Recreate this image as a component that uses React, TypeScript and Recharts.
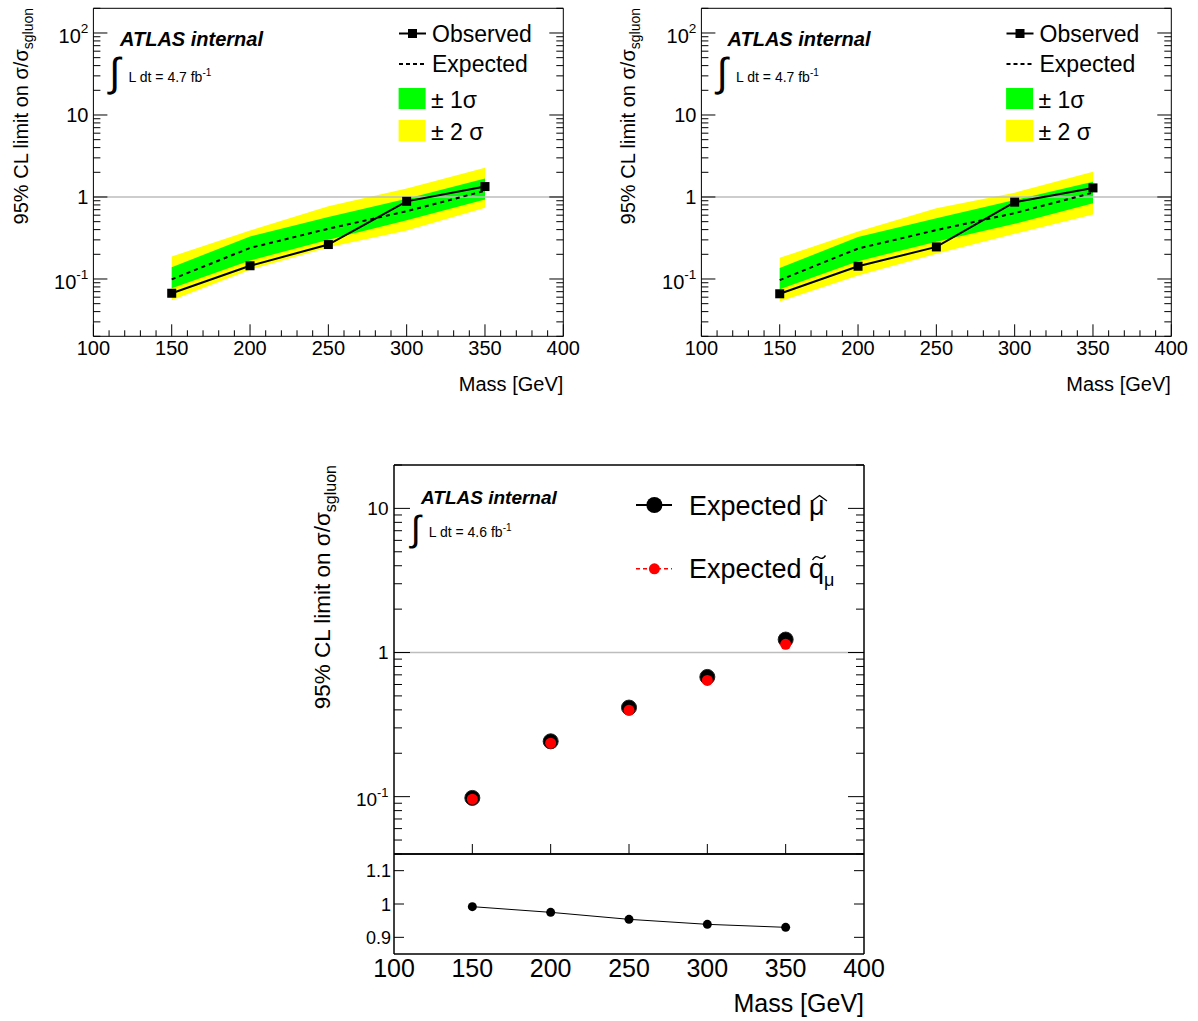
import React from "react";
import { ComposedChart, Area, Line, XAxis, YAxis, ReferenceLine } from "recharts";

const FONT = "'Liberation Sans', Arial, Helvetica, sans-serif";

// masses (GeV)
const MASS = [150, 200, 250, 300, 350];

// left top panel
const OBS_L = [0.067, 0.145, 0.263, 0.885, 1.34];
const EXP_L = [0.099, 0.239, 0.41, 0.67, 1.19];
const P1_L = [0.139, 0.33, 0.57, 0.95, 1.68];
const M1_L = [0.077, 0.168, 0.3, 0.52, 0.93];
const P2_L = [0.188, 0.39, 0.77, 1.27, 2.28];
const M2_L = [0.055, 0.13, 0.243, 0.39, 0.74];

// right top panel
const OBS_R = [0.066, 0.143, 0.246, 0.865, 1.29];
const EXP_R = [0.097, 0.235, 0.395, 0.635, 1.13];
const P1_R = [0.136, 0.325, 0.55, 0.92, 1.53];
const M1_R = [0.075, 0.165, 0.285, 0.47, 0.84];
const P2_R = [0.181, 0.38, 0.73, 1.13, 2.03];
const M2_R = [0.053, 0.11, 0.203, 0.355, 0.61];

// bottom panel
const EXP_MU = [0.098, 0.242, 0.415, 0.677, 1.23];
const EXP_QMU = [0.096, 0.235, 0.397, 0.64, 1.14];
const RATIO = [0.992, 0.975, 0.954, 0.939, 0.93];

// axis ticks
const X_TICKS = [100, 110, 120, 130, 140, 150, 160, 170, 180, 190, 200, 210, 220, 230, 240, 250,
  260, 270, 280, 290, 300, 310, 320, 330, 340, 350, 360, 370, 380, 390, 400];
const X_LABELS = [100, 150, 200, 250, 300, 350, 400];
const X_MAJOR_INNER = [150, 200, 250, 300, 350];
const RATIO_TICKS = [0.9, 1, 1.1];

function logTicks(lo: number, hi: number) {
  const out: number[] = [];
  for (let e = Math.floor(Math.log10(lo)); Math.pow(10, e) <= hi; e++) {
    for (let m = 1; m <= 9; m++) {
      const v = parseFloat((m * Math.pow(10, e)).toPrecision(6));
      if (v >= lo - 1e-9 && v <= hi + 1e-9) out.push(v);
    }
  }
  return out;
}
const Y_TICKS_TOP = logTicks(0.02, 200);
const Y_TICKS_BOT = logTicks(0.04, 20);

const isDecade = (v: number) => {
  const l = Math.log10(v);
  return Math.abs(l - Math.round(l)) < 1e-6;
};
const isFifty = (v: number) => v % 50 === 0;

// axes need a non-zero size to be drawn; keep it at 1px and take it out of the margins
const A = 1;

function logLabel(v: number, x: number, y: number, fs: number) {
  const e = Math.round(Math.log10(v));
  if (e === 0 || e === 1) {
    return (
      <text x={x} y={y + fs * 0.35} textAnchor="end" fontSize={fs} fontFamily={FONT}>
        {e === 0 ? "1" : "10"}
      </text>
    );
  }
  return (
    <text x={x} y={y + fs * 0.35 + 3} textAnchor="end" fontSize={fs} fontFamily={FONT}>
      10<tspan dy={-fs * 0.5} fontSize={fs * 0.68}>{e}</tspan>
    </text>
  );
}

type TickOpts = {
  major: number;
  minor: number;
  isMajor: (v: number) => boolean;
  label?: (v: number, x: number, y: number) => React.ReactNode;
};

const leftTick = (o: TickOpts) => (p: any) => {
  const v = p.payload.value;
  const maj = o.isMajor(v);
  const len = maj ? o.major : o.minor;
  return (
    <g key={`l${v}`}>
      {len > 0 && <line x1={p.x} x2={p.x + len} y1={p.y} y2={p.y} stroke="#000" />}
      {maj && o.label ? o.label(v, p.x, p.y) : null}
    </g>
  );
};
const rightTick = (o: TickOpts) => (p: any) => {
  const v = p.payload.value;
  const len = o.isMajor(v) ? o.major : o.minor;
  return (
    <g key={`r${v}`}>
      {len > 0 && <line x1={p.x} x2={p.x - len} y1={p.y} y2={p.y} stroke="#000" />}
    </g>
  );
};
const bottomTick = (o: TickOpts) => (p: any) => {
  const v = p.payload.value;
  const maj = o.isMajor(v);
  const len = maj ? o.major : o.minor;
  return (
    <g key={`b${v}`}>
      {len > 0 && <line x1={p.x} x2={p.x} y1={p.y} y2={p.y - len} stroke="#000" />}
      {maj && o.label ? o.label(v, p.x, p.y) : null}
    </g>
  );
};
const topTick = (o: TickOpts) => (p: any) => {
  const v = p.payload.value;
  const len = o.isMajor(v) ? o.major : o.minor;
  return (
    <g key={`t${v}`}>
      {len > 0 && <line x1={p.x} x2={p.x} y1={p.y} y2={p.y + len} stroke="#000" />}
    </g>
  );
};

const SquareDot = (p: any) => (
  <rect key={p.key} x={p.cx - 4.5} y={p.cy - 4.5} width={9} height={9} fill="#000" />
);

type PanelProps = {
  left: number;
  obs: number[];
  exp: number[];
  m1: number[];
  p1: number[];
  m2: number[];
  p2: number[];
};

function TopPanel({ left, obs, exp, m1, p1, m2, p2 }: PanelProps) {
  const rows = MASS.map((m, i) => ({
    mass: m,
    obs: obs[i],
    exp: exp[i],
    s1: [m1[i], p1[i]],
    s2: [m2[i], p2[i]],
  }));
  const W = 590;
  const H = 400;
  const xLab = (v: number, x: number, y: number) => (
    <text x={x} y={y + 19} textAnchor="middle" fontSize={20} fontFamily={FONT}>{v}</text>
  );
  const yLab = (v: number, x: number, y: number) => logLabel(v, x - 5, y, 20);
  const frame = { stroke: "#000", strokeWidth: 1 };
  return (
    <div style={{ position: "absolute", left, top: 0 }}>
      <ComposedChart width={W} height={H} data={rows}
        margin={{ top: 8.3 - A, right: W - 563.3 - A, bottom: H - 336.3 - A, left: 93.4 - A }}>
        <XAxis xAxisId="x" dataKey="mass" type="number" domain={[100, 400]} allowDataOverflow
          ticks={X_TICKS} interval={0} height={A} tickSize={0} tickMargin={0} tickLine={false}
          axisLine={frame}
          tick={bottomTick({ major: 12, minor: 6, isMajor: isFifty, label: xLab })} />
        <XAxis xAxisId="xt" orientation="top" type="number" domain={[100, 400]} allowDataOverflow
          ticks={X_TICKS} interval={0} height={A} tickSize={0} tickMargin={0} tickLine={false}
          axisLine={frame}
          tick={topTick({ major: 12, minor: 6, isMajor: isFifty })} />
        <YAxis yAxisId="y" type="number" scale="log" domain={[0.02, 200]} allowDataOverflow
          ticks={Y_TICKS_TOP} interval={0} width={A} tickSize={0} tickMargin={0} tickLine={false}
          axisLine={frame}
          tick={leftTick({ major: 14, minor: 7, isMajor: isDecade, label: yLab })} />
        <YAxis yAxisId="yr" orientation="right" type="number" scale="log" domain={[0.02, 200]}
          allowDataOverflow ticks={Y_TICKS_TOP} interval={0} width={A} tickSize={0} tickMargin={0}
          tickLine={false} axisLine={frame}
          tick={rightTick({ major: 14, minor: 7, isMajor: isDecade })} />
        <ReferenceLine xAxisId="x" yAxisId="y" y={1} stroke="#bdbdbd" strokeWidth={1.5} />
        <Area xAxisId="x" yAxisId="y" dataKey="s2" type="linear" stroke="none" fill="#ffff00"
          fillOpacity={1} isAnimationActive={false} />
        <Area xAxisId="x" yAxisId="y" dataKey="s1" type="linear" stroke="none" fill="#00ff00"
          fillOpacity={1} isAnimationActive={false} />
        <Line xAxisId="x" yAxisId="y" dataKey="exp" type="linear" stroke="#000" strokeWidth={2}
          strokeDasharray="4 4" dot={false} activeDot={false} isAnimationActive={false} />
        <Line xAxisId="x" yAxisId="y" dataKey="obs" type="linear" stroke="#000" strokeWidth={2}
          dot={SquareDot} activeDot={false} isAnimationActive={false} />
      </ComposedChart>
    </div>
  );
}

function BottomPanel() {
  const rows = MASS.map((m, i) => ({ mass: m, mu: EXP_MU[i], qmu: EXP_QMU[i], ratio: RATIO[i] }));
  const W = 600;
  const yLab = (v: number, x: number, y: number) => logLabel(v, x - 5.5, y, 19);
  const rLab = (v: number, x: number, y: number) => (
    <text x={x - 3} y={y + 6.5} textAnchor="end" fontSize={18} fontFamily={FONT}>{v}</text>
  );
  const xLab = (v: number, x: number, y: number) => (
    <text x={x} y={y + 22.5} textAnchor="middle" fontSize={25} fontFamily={FONT}>{v}</text>
  );
  const frame = { stroke: "#000", strokeWidth: 1.5 };
  const none = () => false;
  return (
    <>
      <div style={{ position: "absolute", left: 300, top: 440 }}>
        <ComposedChart width={W} height={430} data={rows}
          margin={{ top: 25 - A, right: W - 564 - A, bottom: 430 - 854 + 440 - A, left: 94 - A }}>
          <XAxis xAxisId="x" dataKey="mass" type="number" domain={[100, 400]} allowDataOverflow
            ticks={X_MAJOR_INNER} interval={0} height={A} tickSize={0} tickMargin={0} tickLine={false}
            axisLine={frame}
            tick={bottomTick({ major: 10, minor: 0, isMajor: isFifty })} />
          <XAxis xAxisId="xt" orientation="top" type="number" domain={[100, 400]} allowDataOverflow
            ticks={X_LABELS} interval={0} height={A} tickSize={0} tickMargin={0} tickLine={false}
            axisLine={frame} tick={topTick({ major: 0, minor: 0, isMajor: none })} />
          <YAxis yAxisId="y" type="number" scale="log" domain={[0.04, 20]} allowDataOverflow
            ticks={Y_TICKS_BOT} interval={0} width={A} tickSize={0} tickMargin={0} tickLine={false}
            axisLine={frame}
            tick={leftTick({ major: 16, minor: 8, isMajor: isDecade, label: yLab })} />
          <YAxis yAxisId="yr" orientation="right" type="number" scale="log" domain={[0.04, 20]}
            allowDataOverflow ticks={Y_TICKS_BOT} interval={0} width={A} tickSize={0} tickMargin={0}
            tickLine={false} axisLine={frame}
            tick={rightTick({ major: 16, minor: 8, isMajor: isDecade })} />
          <ReferenceLine xAxisId="x" yAxisId="y" y={1} stroke="#bdbdbd" strokeWidth={1.5} />
          <Line xAxisId="x" yAxisId="y" dataKey="mu" stroke="none" activeDot={false}
            dot={{ r: 7.5, fill: "#000", stroke: "#222", strokeWidth: 1 }} isAnimationActive={false} />
          <Line xAxisId="x" yAxisId="y" dataKey="qmu" stroke="none" activeDot={false}
            dot={{ r: 5.5, fill: "#ff0000", stroke: "none" }} isAnimationActive={false} />
        </ComposedChart>
      </div>
      <div style={{ position: "absolute", left: 300, top: 840 }}>
        <ComposedChart width={W} height={181} data={rows}
          margin={{ top: 14 - A, right: W - 564 - A, bottom: 181 - 114 - A, left: 94 - A }}>
          <XAxis xAxisId="x" dataKey="mass" type="number" domain={[100, 400]} allowDataOverflow
            ticks={X_LABELS} interval={0} height={A} tickSize={0} tickMargin={0} tickLine={false}
            axisLine={frame}
            tick={bottomTick({ major: 0, minor: 0, isMajor: isFifty, label: xLab })} />
          <XAxis xAxisId="xt" orientation="top" type="number" domain={[100, 400]} allowDataOverflow
            ticks={X_LABELS} interval={0} height={A} tickSize={0} tickMargin={0} tickLine={false}
            axisLine={frame} tick={topTick({ major: 0, minor: 0, isMajor: none })} />
          <YAxis yAxisId="y" type="number" domain={[0.85, 1.15]} allowDataOverflow
            ticks={RATIO_TICKS} interval={0} width={A} tickSize={0} tickMargin={0} tickLine={false}
            axisLine={frame}
            tick={leftTick({ major: 10, minor: 0, isMajor: () => true, label: rLab })} />
          <YAxis yAxisId="yr" orientation="right" type="number" domain={[0.85, 1.15]}
            allowDataOverflow ticks={RATIO_TICKS} interval={0} width={A} tickSize={0} tickMargin={0}
            tickLine={false} axisLine={frame}
            tick={rightTick({ major: 10, minor: 0, isMajor: () => true })} />
          <Line xAxisId="x" yAxisId="y" dataKey="ratio" stroke="#000" strokeWidth={1} activeDot={false}
            dot={{ r: 4.5, fill: "#000", stroke: "none" }} isAnimationActive={false} />
        </ComposedChart>
      </div>
    </>
  );
}

function TopTexts({ ox }: { ox: number }) {
  return (
    <g transform={`translate(${ox},0)`}>
      <text transform="translate(27.5,8) rotate(-90)" textAnchor="end" fontSize={20}>
        95% CL limit on σ/σ<tspan fontSize={14} dy={5}>sgluon</tspan>
      </text>
      <text x={563.3} y={391} textAnchor="end" fontSize={20}>Mass [GeV]</text>
      <text x={120} y={46} fontSize={20} fontWeight="bold" fontStyle="italic">ATLAS internal</text>
      <text x={109} y={86} fontSize={40}>∫</text>
      <text x={128.6} y={81.5} fontSize={14}>
        L dt = 4.7 fb<tspan dy={-6} fontSize={10}>-1</tspan>
      </text>
      <line x1={399} x2={426} y1={33.5} y2={33.5} stroke="#000" strokeWidth={2} />
      <rect x={408} y={29} width={9} height={9} fill="#000" />
      <text x={432} y={41.5} fontSize={23}>Observed</text>
      <line x1={399} x2={426} y1={64} y2={64} stroke="#000" strokeWidth={2} strokeDasharray="4 3" />
      <text x={432} y={72} fontSize={23}>Expected</text>
      <rect x={398.6} y={88} width={27} height={21} fill="#00ff00" />
      <text x={431} y={108} fontSize={23}>± 1σ</text>
      <rect x={398.6} y={120} width={27} height={21.5} fill="#ffff00" />
      <text x={431} y={140} fontSize={23}>± 2 σ</text>
    </g>
  );
}

function Overlay() {
  return (
    <svg width={1198} height={1021} fontFamily={FONT}
      style={{ position: "absolute", left: 0, top: 0, pointerEvents: "none" }}>
      <TopTexts ox={0} />
      <TopTexts ox={607.5} />
      <text transform="translate(330,465) rotate(-90)" textAnchor="end" fontSize={22.5}>
        95% CL limit on σ/σ<tspan fontSize={16} dy={6}>sgluon</tspan>
      </text>
      <text x={864} y={1012} textAnchor="end" fontSize={25}>Mass [GeV]</text>
      <text x={421} y={504.3} fontSize={19} fontWeight="bold" fontStyle="italic">ATLAS internal</text>
      <text x={411} y={541} fontSize={36}>∫</text>
      <text x={428.8} y={537} fontSize={14}>
        L dt = 4.6 fb<tspan dy={-6} fontSize={10}>-1</tspan>
      </text>
      <line x1={636} x2={672} y1={505} y2={505} stroke="#000" strokeWidth={2} />
      <circle cx={654.4} cy={505} r={8} fill="#000" />
      <text x={689} y={514.5} fontSize={27}>Expected μ</text>
      {/* hat over mu */}
      <polyline points="812,501 819.5,495.5 827,501" fill="none" stroke="#000" strokeWidth={1.4} />
      <line x1={636} x2={672} y1={568.8} y2={568.8} stroke="#ff0000" strokeWidth={1.5} strokeDasharray="4 3" />
      <circle cx={654.4} cy={568.8} r={5.5} fill="#ff0000" />
      <text x={689} y={578} fontSize={27}>
        Expected q<tspan fontSize={18} dy={8}>μ</tspan>
      </text>
      {/* tilde over q */}
      <path d="M812.5 560 Q815.5 555 819 557.5 T825.5 555.5" fill="none" stroke="#000" strokeWidth={1.4} />
    </svg>
  );
}

export default function App() {
  return (
    <div style={{ position: "absolute", left: 0, top: 0, width: 1198, height: 1021, overflow: "hidden", background: "#fff" }}>
      <TopPanel left={0} obs={OBS_L} exp={EXP_L} m1={M1_L} p1={P1_L} m2={M2_L} p2={P2_L} />
      <TopPanel left={607.5} obs={OBS_R} exp={EXP_R} m1={M1_R} p1={P1_R} m2={M2_R} p2={P2_R} />
      <BottomPanel />
      <Overlay />
    </div>
  );
}
